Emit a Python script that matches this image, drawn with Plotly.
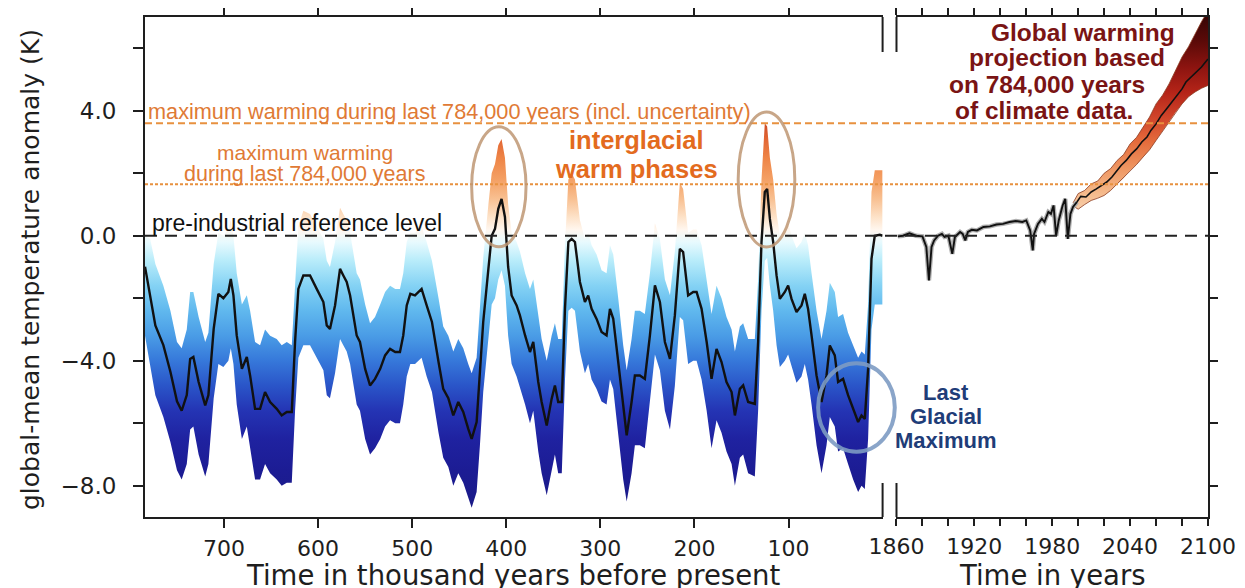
import numpy as np
import plotly.graph_objects as go

# ---------------- data ----------------
# left panel: thousand years before present
kyr_bp = [784, 778.5, 773, 764.5, 757, 750, 745, 739.6, 736, 732.6, 727, 720, 716.6, 711, 706,
          700.7, 695.4, 692.8, 690, 686.5, 681, 675.8, 672.3, 667, 661.7, 656.4, 651, 644, 638.7,
          633.3, 628, 624.5, 621, 615.7, 608.6, 601.5, 594.4, 590.8, 587.4, 582, 576.7, 573.2,
          569.6, 566, 559, 555.5, 550, 544.8, 539.5, 534, 528.8, 523.5, 518, 513, 509.5, 505.8,
          502, 497, 490, 484.6, 479, 472, 467, 461.6, 456.3, 451, 445.7, 440.4, 436.8, 431.5,
          428, 424.5, 419, 415.5, 412, 408.5, 405, 401.4, 398, 394.3, 389, 385.5, 380, 374.8,
          371.3, 366, 362.4, 357, 351.8, 348.3, 344.8, 341, 337.6, 334, 330.5, 327, 321.7, 316.4,
          312.9, 309.3, 304, 298.7, 293.4, 289.8, 286.3, 281, 275.7, 272, 266.8, 263.3, 258,
          252.7, 247.3, 242, 236.7, 231.4, 226, 220.8, 215.5, 212, 206.7, 201.3, 197.7, 192.4,
          187, 181.8, 176.5, 171.2, 165.9, 160.5, 157, 151.7, 148.2, 142.9, 135.8, 132.3, 128.7,
          125.2, 122.7, 119.8, 116.3, 112.7, 109.2, 103.9, 100.4, 96.8, 91.5, 86.2, 82.7, 79.2,
          75.5, 70.2, 64.9, 59.6, 56.1, 50.8, 47.3, 42, 36.7, 31.3, 26, 22.4, 18.9, 15.4, 11.8,
          8.3, 3, 0]
temp_kyr = [-0.99, -1.91, -2.87, -3.5, -4.35, -5.3, -5.6, -5.1, -3.94, -3.88, -4.68, -5.43, -5.1,
            -2.98, -1.86, -2.0, -1.8, -1.38, -1.91, -3.19, -4.26, -3.88, -4.47, -5.54, -5.54, -5.0,
            -5.32, -5.54, -5.75, -5.64, -5.64, -3.4, -1.7, -1.27, -1.27, -1.7, -2.12, -2.87, -2.98,
            -2.23, -1.06, -1.27, -1.48, -1.91, -3.19, -3.4, -4.26, -4.79, -4.58, -4.26, -3.83,
            -3.62, -3.72, -3.72, -3.19, -2.23, -1.86, -1.91, -1.7, -2.23, -2.76, -4.04, -4.9, -5.2,
            -5.75, -5.32, -5.64, -6.18, -6.5, -5.96, -4.47, -2.76, -1.06, 0.0, 0.22, 0.86, 1.18,
            0.6, -1.0, -1.91, -2.23, -2.55, -3.19, -3.72, -3.4, -4.68, -5.32, -6.07, -5.22, -4.79,
            -5.32, -5.32, -2.34, -0.2, -0.1, -0.2, -1.48, -2.12, -1.91, -2.34, -2.66, -3.08, -3.19,
            -2.34, -2.66, -4.04, -5.54, -6.39, -5.32, -4.47, -4.47, -4.58, -3.19, -1.59, -2.12,
            -3.4, -3.94, -2.55, -0.42, -0.52, -1.91, -1.8, -1.8, -2.34, -3.4, -4.58, -3.62, -4.04,
            -4.68, -5.0, -5.75, -4.9, -4.79, -5.32, -5.38, -3.4, -0.2, 1.4, 1.5, 0.54, -0.2, -1.27,
            -2.02, -1.8, -1.59, -2.02, -2.44, -2.23, -1.86, -2.34, -3.19, -4.47, -5.32, -4.47,
            -3.51, -3.83, -4.68, -4.58, -5.1, -5.54, -5.96, -5.75, -5.86, -4.26, -0.74, 0.0, 0.03,
            0.0]
band_hi_kyr = [0.0, -0.1, -0.9, -1.6, -2.4, -3.4, -3.6, -3.0, -1.8, -1.8, -2.6, -3.4, -3.1, -0.9,
               0.1, 0.0, 0.2, 0.5, 0.0, -1.2, -2.2, -1.9, -2.4, -3.4, -3.5, -3.0, -3.2, -3.3, -3.5,
               -3.4, -3.5, -1.4, 0.3, 0.8, 0.7, 0.3, -0.1, -0.8, -1.0, -0.2, 0.9, 0.7, 0.5, 0.1,
               -1.2, -1.4, -2.2, -2.8, -2.6, -2.2, -1.8, -1.6, -1.7, -1.7, -1.2, -0.2, 0.1, 0.1,
               0.3, -0.2, -0.8, -2.0, -2.9, -3.2, -3.7, -3.3, -3.6, -4.1, -4.4, -3.9, -2.4, -0.7,
               1.0, 2.0, 2.3, 2.9, 3.1, 2.5, 1.0, 0.1, -0.2, -0.5, -1.2, -1.7, -1.4, -2.6, -3.3,
               -4.0, -3.2, -2.8, -3.3, -3.3, -0.3, 1.8, 2.0, 1.8, 0.5, -0.1, 0.1, -0.3, -0.6, -1.1,
               -1.2, -0.3, -0.6, -2.0, -3.5, -4.3, -3.3, -2.4, -2.4, -2.5, -1.2, 0.4, -0.1, -1.4,
               -1.9, -0.5, 1.7, 1.5, 0.1, 0.2, 0.2, -0.3, -1.4, -2.5, -1.6, -2.0, -2.6, -3.0, -3.7,
               -2.9, -2.8, -3.3, -3.3, -1.4, 1.8, 3.6, 3.5, 2.5, 1.8, 0.7, 0.0, 0.2, 0.4, 0.0, -0.4,
               -0.2, 0.1, -0.3, -1.2, -2.4, -3.3, -2.4, -1.5, -1.8, -2.6, -2.5, -3.1, -3.5, -3.9,
               -3.7, -3.8, -2.2, 1.4, 2.1, 2.1, 2.1]
band_lo_kyr = [-3.2, -4.1, -5.1, -5.8, -6.6, -7.5, -7.8, -7.3, -6.2, -6.1, -7.0, -7.7, -7.3, -5.2,
               -4.1, -4.2, -4.0, -3.6, -4.1, -5.4, -6.5, -6.1, -6.7, -7.8, -7.8, -7.3, -7.6, -7.8,
               -8.0, -7.9, -7.9, -5.6, -3.9, -3.5, -3.5, -3.9, -4.3, -5.1, -5.2, -4.4, -3.3, -3.5,
               -3.7, -4.1, -5.4, -5.6, -6.5, -7.0, -6.8, -6.5, -6.1, -5.9, -6.0, -6.0, -5.4, -4.5,
               -4.1, -4.1, -3.9, -4.5, -5.0, -6.3, -7.1, -7.4, -8.0, -7.6, -7.9, -8.4, -8.7, -8.2,
               -6.7, -5.0, -3.3, -2.2, -2.0, -1.4, -1.1, -1.6, -3.2, -4.1, -4.5, -4.8, -5.4, -6.0,
               -5.6, -6.9, -7.6, -8.3, -7.5, -7.0, -7.6, -7.6, -4.6, -2.4, -2.3, -2.4, -3.7, -4.4,
               -4.1, -4.6, -4.9, -5.3, -5.4, -4.6, -4.9, -6.3, -7.8, -8.5, -7.6, -6.7, -6.7, -6.8,
               -5.4, -3.8, -4.3, -5.6, -6.2, -4.8, -2.6, -2.7, -4.1, -4.0, -4.0, -4.6, -5.6, -6.8,
               -5.9, -6.3, -6.9, -7.3, -8.0, -7.1, -7.0, -7.6, -7.7, -5.6, -2.4, -0.8, -0.7, -1.6,
               -2.4, -3.5, -4.2, -4.0, -3.8, -4.2, -4.7, -4.5, -4.1, -4.6, -5.4, -6.7, -7.6, -6.7,
               -5.8, -6.1, -6.9, -6.8, -7.3, -7.8, -8.2, -8.0, -8.1, -6.5, -3.0, -2.2, -2.2, -2.2]

# right panel: calendar years
hist_year = [1861, 1865, 1870, 1875, 1880, 1883, 1885, 1887, 1889, 1892, 1895, 1897, 1900, 1903,
             1905, 1909, 1911, 1913, 1915, 1918, 1922, 1927, 1932, 1937, 1942, 1947, 1952, 1957,
             1960, 1963, 1965, 1966, 1969, 1972, 1974, 1977, 1979, 1981, 1983, 1985, 1988, 1990,
             1992, 1994, 1996, 1999]
hist_temp = [-0.02, 0.0, 0.08, 0.0, -0.02, -0.36, -1.43, -0.36, -0.15, 0.0, 0.06, -0.04, 0.0,
             -0.58, -0.04, 0.12, 0.06, -0.15, 0.12, 0.19, 0.17, 0.28, 0.3, 0.36, 0.38, 0.44, 0.47,
             0.44, 0.49, 0.17, -0.47, 0.06, 0.38, 0.54, 0.44, 0.76, 0.7, 0.97, 0.0, 0.49, 0.97,
             1.18, -0.1, 0.7, 0.92, 1.08]
proj_year = [1999, 2002, 2006, 2010, 2014, 2018, 2022, 2026, 2030, 2033, 2037, 2041, 2045, 2049,
             2053, 2056, 2060, 2064, 2068, 2072, 2076, 2080, 2083, 2087, 2091, 2095, 2099, 2100]
proj_temp = [1.08, 1.26, 1.24, 1.4, 1.5, 1.61, 1.72, 1.88, 2.09, 2.25, 2.41, 2.62, 2.78, 3.0,
             3.16, 3.37, 3.58, 3.85, 4.06, 4.28, 4.49, 4.7, 4.92, 5.08, 5.24, 5.4, 5.61, 5.65]
proj_band_year = [1996, 2000, 2005, 2010, 2015, 2020, 2025, 2030, 2035, 2040, 2045, 2050, 2055,
                  2060, 2065, 2070, 2075, 2080, 2085, 2090, 2095, 2100]
proj_band_hi = [1.05, 1.35, 1.45, 1.66, 1.75, 2.0, 2.15, 2.41, 2.6, 2.94, 3.15, 3.48, 3.8, 4.22,
                4.5, 4.86, 5.3, 5.72, 6.05, 6.46, 6.85, 7.2]
proj_band_lo = [0.95, 0.85, 1.0, 1.13, 1.2, 1.29, 1.45, 1.66, 1.85, 2.09, 2.28, 2.52, 2.75, 3.05,
                3.35, 3.64, 3.95, 4.22, 4.45, 4.6, 4.72, 4.81]

# reference levels (K)
preindustrial_level = 0.0
max_warming = 1.65
max_warming_unc = 3.6

# ticks
y_ticks = [-8, -6, -4, -2, 0, 2, 4, 6]
y_tick_labels = ["\u22128.0", "", "\u22124.0", "", "0.0", "", "4.0", ""]
kyr_ticks = [700, 600, 500, 400, 300, 200, 100]
kyr_tick_labels = ["700", "600", "500", "400", "300", "200", "100"]
year_ticks = [1860, 1880, 1900, 1920, 1940, 1960, 1980, 2000, 2020, 2040, 2060, 2080, 2100]
year_tick_labels = ["1860", "", "", "1920", "", "", "1980", "", "", "2040", "", "", "2100"]

# ---------------- styles ----------------
ICE_STOPS = [(-9.0, "#1a1a84"), (-7.5, "#1c1c94"), (-6.5, "#1f22a0"), (-5.6, "#2434b4"),
             (-4.8, "#2a55c8"), (-4.0, "#3678da"), (-3.2, "#4a9ce6"), (-2.4, "#60b8ee"),
             (-1.6, "#84d2f4"), (-0.8, "#b8ecfa"), (-0.2, "#e8fafe"), (0.2, "#fff6ee"),
             (0.6, "#fde2c8"), (1.2, "#f8bf90"), (1.8, "#f4a064"), (2.5, "#ee8446"),
             (3.1, "#e26634"), (3.6, "#cc4a26")]
PROJ_STOPS = [(0.8, "#f8d0ac"), (1.5, "#f4b484"), (2.2, "#ee9460"), (3.0, "#e46c3c"),
              (3.8, "#d0442a"), (4.6, "#b42418"), (5.4, "#8c1410"), (6.2, "#5c0a08"),
              (7.2, "#300404")]

AXC = "#1e1e1e"
TICKFONT = dict(family="DejaVu Sans", size=22, color=AXC)
YTICKFONT = dict(family="DejaVu Sans", size=23, color=AXC)
ORANGE_TXT = "#e07a35"
ORANGE_LINE = "#e8913f"


def scale_of(stops):
    lo, hi = stops[0][0], stops[-1][0]
    return [[(v - lo) / (hi - lo), c] for v, c in stops], lo, hi


fig = go.Figure()


def gradient_band(x, lo, hi, stops, xa, ya):
    cs, start, stop = scale_of(stops)
    fig.add_trace(go.Scatter(
        x=list(x) + list(x)[::-1], y=list(hi) + list(lo)[::-1],
        fill="toself", mode="lines", line=dict(width=0),
        fillgradient=dict(type="vertical", colorscale=cs, start=start, stop=stop),
        hoverinfo="skip", showlegend=False, xaxis=xa, yaxis=ya))


# left panel band + line
gradient_band(kyr_bp, band_lo_kyr, band_hi_kyr, ICE_STOPS, "x", "y")
fig.add_trace(go.Scatter(x=kyr_bp, y=temp_kyr, mode="lines", line=dict(color="#111", width=2.4),
                         showlegend=False, xaxis="x", yaxis="y"))

# right panel band + lines
gradient_band(proj_band_year, proj_band_lo, proj_band_hi, PROJ_STOPS, "x2", "y2")
for arr in (proj_band_hi, proj_band_lo):
    fig.add_trace(go.Scatter(x=proj_band_year, y=arr, mode="lines",
                             line=dict(color="#8a3a20", width=0.8),
                             showlegend=False, xaxis="x2", yaxis="y2"))
fig.add_trace(go.Scatter(x=hist_year, y=hist_temp, mode="lines",
                         line=dict(color="#b0b0b0", width=4.5), showlegend=False,
                         xaxis="x2", yaxis="y2"))
fig.add_trace(go.Scatter(x=hist_year, y=hist_temp, mode="lines",
                         line=dict(color="#111", width=1.9), showlegend=False,
                         xaxis="x2", yaxis="y2"))
fig.add_trace(go.Scatter(x=proj_year, y=proj_temp, mode="lines",
                         line=dict(color="#111", width=1.6), showlegend=False,
                         xaxis="x2", yaxis="y2"))

# ---------------- layout geometry (page pixels; page body has an 8px margin) ----------------
W, H, BODY = 1245, 588, 8
L, R, T, B = 145, 1208.3, 17, 517
PW, PH = R - L, B - T
split_left = (882.8 - L) / PW
split_right = (896.7 - L) / PW


def px(xp):
    return (xp - L) / PW


def py(yp):
    return (B - yp) / PH


shapes = []
shapes.append(dict(type="line", xref="paper", yref="y", x0=0, x1=1, y0=max_warming_unc,
                   y1=max_warming_unc, line=dict(color=ORANGE_LINE, width=2, dash="7px,4px")))
shapes.append(dict(type="line", xref="paper", yref="y", x0=0, x1=1, y0=max_warming,
                   y1=max_warming, line=dict(color=ORANGE_LINE, width=2, dash="3px,2px")))
shapes.append(dict(type="line", xref="paper", yref="y", x0=0, x1=1, y0=preindustrial_level,
                   y1=preindustrial_level, line=dict(color="#222", width=2, dash="12px,8px")))
for xv in (split_left, split_right):
    shapes.append(dict(type="line", xref="paper", yref="paper", x0=xv, x1=xv, y0=0,
                       y1=py(483), line=dict(color=AXC, width=2)))
    shapes.append(dict(type="line", xref="paper", yref="paper", x0=xv, x1=xv, y0=py(52),
                       y1=1, line=dict(color=AXC, width=2)))
shapes.append(dict(type="circle", xref="x", yref="y", x0=436.8, x1=379, y0=-0.35, y1=3.49,
                   line=dict(color="rgba(190,150,115,0.85)", width=3)))
shapes.append(dict(type="circle", xref="x", yref="y", x0=153.5, x1=93.3, y0=-0.36, y1=3.96,
                   line=dict(color="rgba(190,150,115,0.85)", width=3)))
shapes.append(dict(type="circle", xref="paper", yref="paper", x0=px(818.3), x1=px(895),
                   y0=py(451.7), y1=py(363.3),
                   line=dict(color="rgba(125,155,195,0.9)", width=4)))

ann = []


def text(t, xp, yp, size, color, family="Liberation Sans", bold=False, anchor="center",
         angle=0):
    s = f"<b>{t}</b>" if bold else t
    ann.append(dict(text=s, xref="paper", yref="paper", x=px(xp), y=py(yp), xanchor=anchor,
                    yanchor="middle", showarrow=False, textangle=angle, borderpad=0,
                    font=dict(family=family, size=size, color=color)))


text("maximum warming during last 784,000 years (incl. uncertainty)", 147, 112, 21.7,
     ORANGE_TXT, anchor="left")
text("maximum warming", 305, 152, 21, ORANGE_TXT)
text("during last 784,000 years", 305, 174, 21.5, ORANGE_TXT)
text("pre-industrial reference level", 151, 223, 23, "#111", anchor="left")
text("interglacial", 637, 140, 25.5, "#e36b1e", bold=True)
text("warm phases", 637, 169, 25.5, "#e36b1e", bold=True)
DR = "#7a1414"
text("Global warming", 1083, 32, 24.5, DR, bold=True)
text("projection based", 1067, 58, 24.5, DR, bold=True)
text("on 784,000 years", 1047, 84, 24.5, DR, bold=True)
text("of climate data.", 1044, 110, 24.5, DR, bold=True)
BL = "#1f3d78"
text("Last", 946, 392, 22, BL, bold=True)
text("Glacial", 946, 416, 22, BL, bold=True)
text("Maximum", 946, 440, 22, BL, bold=True)
text("global-mean temperature anomaly (K)", 30, 270, 25, AXC, family="DejaVu Sans", angle=-90)
text("Time in thousand years before present", 514, 575, 27.5, AXC, family="DejaVu Sans")
text("Time in years", 1053, 575, 27.5, AXC, family="DejaVu Sans")

common_y = dict(range=[-9, 7], tickvals=y_ticks, ticks="outside", tickwidth=2, tickcolor=AXC,
                showline=True, linewidth=2, linecolor=AXC, showgrid=False, zeroline=False,
                tickfont=YTICKFONT, mirror=False, automargin=False)
common_x = dict(ticks="outside", tickwidth=2, tickcolor=AXC, showline=True, linewidth=2,
                linecolor=AXC, mirror="ticks", showgrid=False, zeroline=False,
                tickfont=TICKFONT, ticklabelstandoff=2, automargin=False)

fig.update_layout(
    width=W - BODY, height=H - BODY,
    margin=dict(l=L - BODY, r=W - R, t=T - BODY, b=H - B, pad=0, autoexpand=False),
    plot_bgcolor="white", paper_bgcolor="white", showlegend=False,
    xaxis=dict(domain=[0, split_left], range=[784, 0], tickvals=kyr_ticks,
               ticktext=kyr_tick_labels, ticklen=9, anchor="y", **common_x),
    yaxis=dict(domain=[0, 1], anchor="x", ticktext=y_tick_labels, ticklen=10,
               ticklabelstandoff=12, **common_y),
    xaxis2=dict(domain=[split_right, 1], range=[1860, 2100], tickvals=year_ticks,
                ticktext=year_tick_labels, ticklen=7, anchor="y2", **common_x),
    yaxis2=dict(domain=[0, 1], anchor="x2", side="right", showticklabels=False, ticklen=8,
                **common_y),
    shapes=shapes, annotations=ann,
)

fig.write_html("out.html")
